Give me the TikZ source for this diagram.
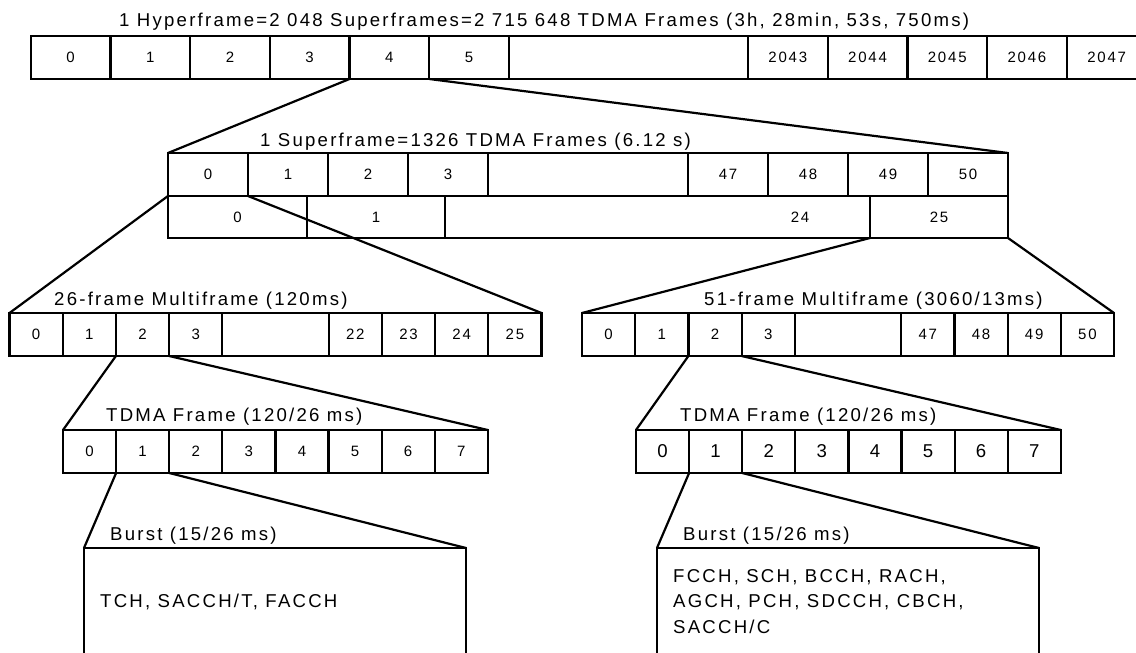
\documentclass[tikz,border=0pt]{standalone}
\usepackage{fontspec}
\setmainfont{Liberation Sans}
\newfontfamily\spaced[LetterSpace=12]{Liberation Sans}
\usepackage{tikz}
\usetikzlibrary{positioning}
\tikzset{
    cell/.style={draw, line width=2.2pt, inner sep=0pt, outer sep=0pt,
                 minimum height=43pt, font=\fontsize{15}{17}\spaced},
    hcell/.style={cell, minimum width=79.7pt},
    scell/.style={cell, minimum width=80pt},
    mcell/.style={cell, minimum width=53.2pt},
    tcell/.style={cell, minimum width=53.1pt},
    big/.style={font=\fontsize{18.6}{22}\spaced},
    ttl/.style={anchor=base west, inner sep=0pt, font=\fontsize{18.6}{22}\spaced},
    burst/.style={draw, line width=2.2pt, inner sep=0pt, outer sep=0pt,
                  anchor=north west, minimum width=382pt, minimum height=150pt},
    chan/.style={anchor=base west, inner sep=0pt, align=left,
                 font=\fontsize{18.6}{25.5}\spaced},
    lead/.style={line width=2.2pt},
}

\begin{document}
\begin{tikzpicture}[x=1pt, y=-1pt]
    \useasboundingbox (0,0) rectangle (1136,653);
    \clip (0,0) rectangle (1136,653);

    % hyperframe
    \node[ttl] (hfT) at (119,26) {1 Hyperframe=2 048 Superframes=2 715 648 TDMA Frames (3h, 28min, 53s, 750ms)};
    \node[hcell, anchor=west] (hf0) at (30.7,57.5) {0};
    \foreach \n [remember=\n as \p (initially 0)] in {1,...,5}
        \node[hcell, right=0pt of hf\p] (hf\n) {\n};
    \node[hcell, minimum width=239.1pt, right=0pt of hf5] (hfgap) {};
    \node[hcell, right=0pt of hfgap] (hf2043) {2043};
    \foreach \n [remember=\n as \p (initially 2043)] in {2044,...,2047}
        \node[hcell, right=0pt of hf\p] (hf\n) {\n};

    % superframe, 51 and 26 multiframes
    \node[ttl] (sfT) at (260,146) {1 Superframe=1326 TDMA Frames (6.12 s)};
    \node[scell, anchor=west] (sf0) at (168,174.5) {0};
    \foreach \n [remember=\n as \p (initially 0)] in {1,...,3}
        \node[scell, right=0pt of sf\p] (sf\n) {\n};
    \node[scell, minimum width=200pt, right=0pt of sf3] (sfgap) {};
    \node[scell, right=0pt of sfgap] (sf47) {47};
    \foreach \n [remember=\n as \p (initially 47)] in {48,...,50}
        \node[scell, right=0pt of sf\p] (sf\n) {\n};
    \node[scell, minimum height=42pt, minimum width=139pt, below=0pt of sf0.south west, anchor=north west] (sm0) {0};
    \node[scell, minimum height=42pt, minimum width=138pt, right=0pt of sm0] (sm1) {1};
    \node[scell, minimum height=42pt, minimum width=425pt, right=0pt of sm1] (sm24) {\hspace*{285pt}24};
    \node[scell, minimum height=42pt, minimum width=138pt, right=0pt of sm24] (sm25) {25};
    \draw[lead] (hf4.south west) -- (sf0.north west);
    \draw[lead] (hf5.south west) -- (sf50.north east);

    % 26-frame multiframe
    \node[ttl] (mfaT) at (54,305) {26-frame Multiframe (120ms)};
    \node[mcell, anchor=west] (mfa0) at (9.5,334.5) {0};
    \foreach \n [remember=\n as \p (initially 0)] in {1,...,3}
        \node[mcell, right=0pt of mfa\p] (mfa\n) {\n};
    \node[mcell, minimum width=106.4pt, right=0pt of mfa3] (mfagap) {};
    \node[mcell, right=0pt of mfagap] (mfa22) {22};
    \foreach \n [remember=\n as \p (initially 22)] in {23,...,25}
        \node[mcell, right=0pt of mfa\p] (mfa\n) {\n};
    \draw[lead] (sf0.south west) -- (mfa0.north west);
    \draw[lead] (sf1.south west) -- (mfa25.north east);

    % 51-frame multiframe
    \node[ttl] (mfbT) at (704,305) {51-frame Multiframe (3060/13ms)};
    \node[mcell, anchor=west] (mfb0) at (582,334.5) {0};
    \foreach \n [remember=\n as \p (initially 0)] in {1,...,3}
        \node[mcell, right=0pt of mfb\p] (mfb\n) {\n};
    \node[mcell, minimum width=106.4pt, right=0pt of mfb3] (mfbgap) {};
    \node[mcell, right=0pt of mfbgap] (mfb47) {47};
    \foreach \n [remember=\n as \p (initially 47)] in {48,...,50}
        \node[mcell, right=0pt of mfb\p] (mfb\n) {\n};
    \draw[lead] (sm25.south west) -- (mfb0.north west);
    \draw[lead] (sm25.south east) -- (mfb50.north east);

    % TDMA frames
    \node[ttl] (tdaT) at (106,421) {TDMA Frame (120/26 ms)};
    \node[tcell, anchor=west] (tda0) at (63,451.5) {0};
    \foreach \n [remember=\n as \p (initially 0)] in {1,...,7}
        \node[tcell, right=0pt of tda\p] (tda\n) {\n};
    \draw[lead] (mfa2.south west) -- (tda0.north west);
    \draw[lead] (mfa3.south west) -- (tda7.north east);

    \node[ttl] (tdbT) at (680,421) {TDMA Frame (120/26 ms)};
    \node[tcell, big, anchor=west] (tdb0) at (636,451.5) {0};
    \foreach \n [remember=\n as \p (initially 0)] in {1,...,7}
        \node[tcell, big, right=0pt of tdb\p] (tdb\n) {\n};
    \draw[lead] (mfb2.south west) -- (tdb0.north west);
    \draw[lead] (mfb3.south west) -- (tdb7.north east);

    % bursts
    \node[ttl] (bstaT) at (110,540) {Burst (15/26 ms)};
    \node[burst] (bsta) at (84,548) {};
    \node[chan] (chana) at (100,607) {TCH, SACCH/T, FACCH};
    \draw[lead] (tda1.south west) -- (bsta.north west);
    \draw[lead] (tda2.south west) -- (bsta.north east);

    \node[ttl] (bstbT) at (683,540) {Burst (15/26 ms)};
    \node[burst] (bstb) at (657,548) {};
    \node[chan] (chanb) at (673,633) {FCCH, SCH, BCCH, RACH,\\AGCH, PCH, SDCCH, CBCH,\\SACCH/C};
    \draw[lead] (tdb1.south west) -- (bstb.north west);
    \draw[lead] (tdb2.south west) -- (bstb.north east);
\end{tikzpicture}
\end{document}
